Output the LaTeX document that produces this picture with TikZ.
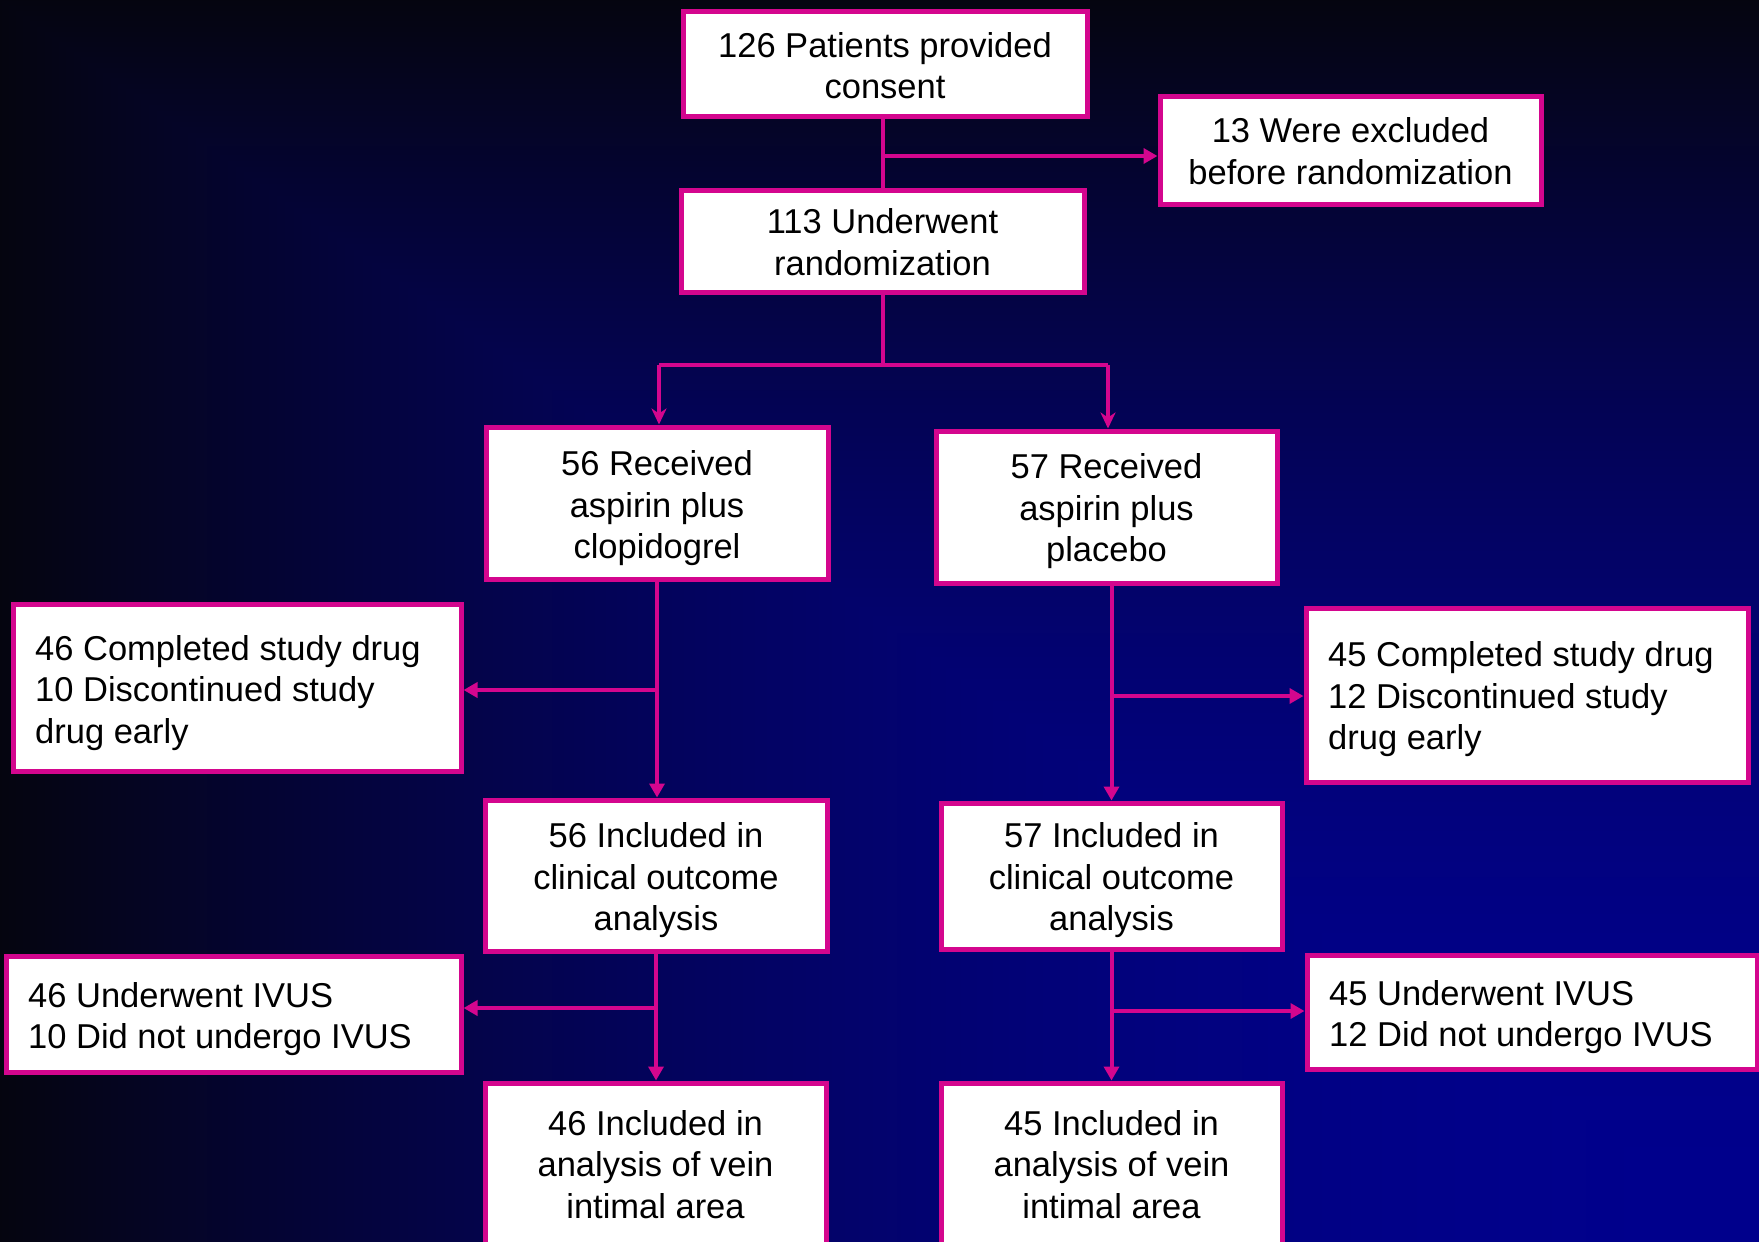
\documentclass[tikz,border=0pt]{standalone}
\usepackage{fontspec}
\setmainfont{Liberation Sans}
\usetikzlibrary{arrows.meta,calc}
\definecolor{mag}{HTML}{D4068E}
\definecolor{bgdark}{RGB}{4,4,18}
\pgfdeclarefunctionalshading{bgfun}{\pgfpoint{0bp}{0bp}}{\pgfpoint{100bp}{100bp}}{}{
  25 sub 50 div
  exch 75 exch sub 50 div
  2 copy gt {pop} {exch pop} ifelse
  dup 0 lt {pop 0} if
  dup 1 gt {pop 1} if
  dup dup mul 1 exch sub 0.49 mul 0.06 add
  exch 0.02 mul dup 3 -1 roll
}
\tikzset{
  box/.style={draw=mag, line width=5pt, fill=white, inner sep=0pt},
  txtc/.style={text=black, inner sep=0pt, font=\fontsize{34.5}{41.5}\selectfont, align=center},
  txtl/.style={txtc, align=left, anchor=west, xshift=24.5pt},
  arr/.style={draw=mag, line width=4pt, -{Triangle[length=14pt,width=15pt]}},
  arrB/.style={draw=mag, line width=4pt, -{Stealth[length=16pt,width=15pt,inset=5pt]}},
  ln/.style={draw=mag, line width=4pt},
}
\begin{document}
\begin{tikzpicture}[x=1pt,y=-1pt]
\useasboundingbox (0,0) rectangle (1759,1242);
\begin{scope}
\clip (0,0) rectangle (1759,1242);
\fill[bgdark] (0,0) rectangle (1759,1242);
\shade[shading=bgfun] (0,0) rectangle (1759,1242);

\node[box, minimum width=404pt, minimum height=105pt,
  label={[txtc,yshift=-2pt]center:{126 Patients provided\\consent}}] (b1) at (885,63.5) {};
\node[box, minimum width=381pt, minimum height=108pt,
  label={[txtc,yshift=-1pt]center:{13 Were excluded\\before randomization}}] (ex) at (1350.5,150) {};
\node[box, minimum width=403pt, minimum height=102pt,
  label={[txtc,yshift=-1pt]center:{113 Underwent\\randomization}}] (b2) at (882.5,241) {};
\node[box, minimum width=342pt, minimum height=152pt,
  label={[txtc,yshift=-5.5pt]center:{56 Received\\aspirin plus\\clopidogrel}}] (rL) at (657,503) {};
\node[box, minimum width=341pt, minimum height=152pt,
  label={[txtc,yshift=-4.5pt]center:{57 Received\\aspirin plus\\placebo}}] (rR) at (1106.5,507) {};
\node[box, minimum width=448pt, minimum height=167pt,
  label={[txtl,yshift=-5.5pt]west:{46 Completed study drug\\10 Discontinued study\\drug early}}] (cL) at (237,687.5) {};
\node[box, minimum width=442pt, minimum height=174pt,
  label={[txtl,yshift=-4.5pt]west:{45 Completed study drug\\12 Discontinued study\\drug early}}] (cR) at (1527,695) {};
\node[box, minimum width=342pt, minimum height=151pt,
  label={[txtc,yshift=-5pt]center:{56 Included in\\clinical outcome\\analysis}}] (iL) at (656,875.5) {};
\node[box, minimum width=341pt, minimum height=146pt,
  label={[txtc,yshift=-4.5pt]center:{57 Included in\\clinical outcome\\analysis}}] (iR) at (1111.5,876) {};
\node[box, minimum width=455pt, minimum height=116pt,
  label={[txtl,yshift=-5pt]west:{46 Underwent IVUS\\10 Did not undergo IVUS}}] (vL) at (233.5,1014) {};
\node[box, minimum width=450pt, minimum height=114pt,
  label={[txtl,yshift=-5pt]west:{45 Underwent IVUS\\12 Did not undergo IVUS}}] (vR) at (1532,1012) {};
\node[box, minimum width=341pt, minimum height=163pt,
  label={[txtc]center:{46 Included in\\analysis of vein\\intimal area}}] (aL) at (655.5,1164.5) {};
\node[box, minimum width=341pt, minimum height=163pt,
  label={[txtc]center:{45 Included in\\analysis of vein\\intimal area}}] (aR) at (1111.5,1164.5) {};

% connectors
\draw[ln] (b2.north) -- (b2.north |- b1.south);
\coordinate (j1) at (882.5,156);
\draw[arr] (j1) -- (j1 -| ex.west);
\coordinate (j2) at (882.5,365);
\draw[ln] (b2.south) -- (j2);
\coordinate (jl) at (659,365);
\coordinate (jr) at (1108,365);
\draw[ln] (j2) -- (jl);
\draw[ln] (j2) -- (jr);
\draw[arrB] (jl) -- (jl |- rL.north);
\draw[arrB] (jr) -- (jr |- rR.north);

\draw[arr] (rL.south) -- (iL.north -| rL.south);
\coordinate (j3) at (657,690);
\draw[arr] (j3) -- (j3 -| cL.east);
\draw[arr] (iL.south) -- (aL.north -| iL.south);
\coordinate (j4) at (656,1008);
\draw[arr] (j4) -- (j4 -| vL.east);

\draw[arr] (rR.south -| iR.north) -- (iR.north);
\coordinate (j5) at (1111.5,696);
\draw[arr] (j5) -- (j5 -| cR.west);
\draw[arr] (iR.south) -- (aR.north -| iR.south);
\coordinate (j6) at (1111.5,1011);
\draw[arr] (j6) -- (j6 -| vR.west);
\end{scope}
\end{tikzpicture}
\end{document}
